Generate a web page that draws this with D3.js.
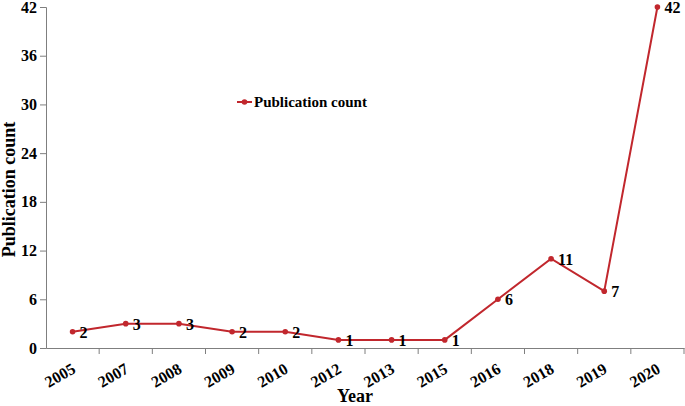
<!DOCTYPE html>
<html lang="en">
<head>
<meta charset="UTF-8">
<title>Publication count</title>
<script src="https://cdn.jsdelivr.net/npm/d3@7"></script>
<style>
  body { margin: 0; background: #fff; }
  svg { display: block; font-family: "Liberation Serif", "Times New Roman", serif; font-weight: bold; }
</style>
</head>
<body>
<div id="chart"></div>
<script>
// values
const years = ["2005", "2007", "2008", "2009", "2010", "2012", "2013", "2015", "2016", "2018", "2019", "2020"];
const counts = [2, 3, 3, 2, 2, 1, 1, 1, 6, 11, 7, 42];
const yTicks = [0, 6, 12, 18, 24, 30, 36, 42];
const seriesName = "Publication count";

const width = 685, height = 406;
const margin = { top: 7, right: 1, bottom: 58, left: 46 };
const red = "#c1272d";
const axisGrey = "#7f7f7f";

const svg = d3.select("#chart").append("svg")
    .attr("width", width)
    .attr("height", height);

const x = d3.scaleBand()
    .domain(years)
    .range([margin.left, width - margin.right]);

const y = d3.scaleLinear()
    .domain([0, 42])
    .range([height - margin.bottom, margin.top]);

// y axis
const yAxis = svg.append("g")
    .attr("transform", `translate(${margin.left},0)`)
    .call(d3.axisLeft(y).tickValues(yTicks).tickSize(6).tickPadding(3));
yAxis.select(".domain").attr("stroke", axisGrey);
yAxis.selectAll(".tick line").attr("stroke", axisGrey);
yAxis.selectAll("text")
    .attr("font-size", 16)
    .attr("font-family", "Liberation Serif, serif")
    .attr("font-weight", "bold")
    .attr("fill", "#000");

// x axis, ticks sit between categories
const xAxis = svg.append("g")
    .attr("transform", `translate(0,${y(0)})`)
    .call(d3.axisBottom(x).tickSize(0).tickSizeOuter(0).tickFormat(""));
xAxis.select(".domain").attr("stroke", axisGrey);
xAxis.selectAll(".tick").remove();

const tickPos = years.map(d => x(d)).concat([x(years[years.length - 1]) + x.bandwidth()]);
svg.append("g").selectAll("line")
    .data(tickPos.slice(1))
    .join("line")
    .attr("x1", d => d).attr("x2", d => d)
    .attr("y1", y(0)).attr("y2", y(0) + 6)
    .attr("stroke", axisGrey);

svg.append("g").selectAll("text")
    .data(years)
    .join("text")
    .attr("transform", d => `translate(${x(d) + x.bandwidth() / 2 + 4},${y(0) + 24}) rotate(-30)`)
    .attr("text-anchor", "end")
    .attr("font-size", 16)
    .attr("fill", "#000")
    .text(d => d);

// axis titles
svg.append("text")
    .attr("x", 355)
    .attr("y", 402)
    .attr("text-anchor", "middle")
    .attr("font-size", 18)
    .text("Year");

svg.append("text")
    .attr("transform", `translate(15,${(y(0) + y(42)) / 2 + 12}) rotate(-90)`)
    .attr("text-anchor", "middle")
    .attr("font-size", 18)
    .text("Publication count");

// line + points
const cx = d => x(d) + x.bandwidth() / 2;
const line = d3.line()
    .x((d, i) => cx(years[i]))
    .y(d => y(d));

svg.append("path")
    .datum(counts)
    .attr("fill", "none")
    .attr("stroke", red)
    .attr("stroke-width", 2)
    .attr("d", line);

svg.append("g").selectAll("circle")
    .data(counts)
    .join("circle")
    .attr("cx", (d, i) => cx(years[i]))
    .attr("cy", d => y(d))
    .attr("r", 2.8)
    .attr("fill", red);

svg.append("g").selectAll("text")
    .data(counts)
    .join("text")
    .attr("x", (d, i) => cx(years[i]) + 7)
    .attr("y", d => y(d) + 6)
    .attr("font-size", 16)
    .attr("fill", "#000")
    .text(d => d);

// legend
const legend = svg.append("g").attr("transform", "translate(237,102)");
legend.append("line")
    .attr("x1", 0).attr("x2", 15)
    .attr("stroke", red).attr("stroke-width", 2);
legend.append("circle")
    .attr("cx", 7.5).attr("r", 2.8).attr("fill", red);
legend.append("text")
    .attr("x", 17)
    .attr("y", 5)
    .attr("font-size", 15)
    .text(seriesName);
</script>
</body>
</html>
